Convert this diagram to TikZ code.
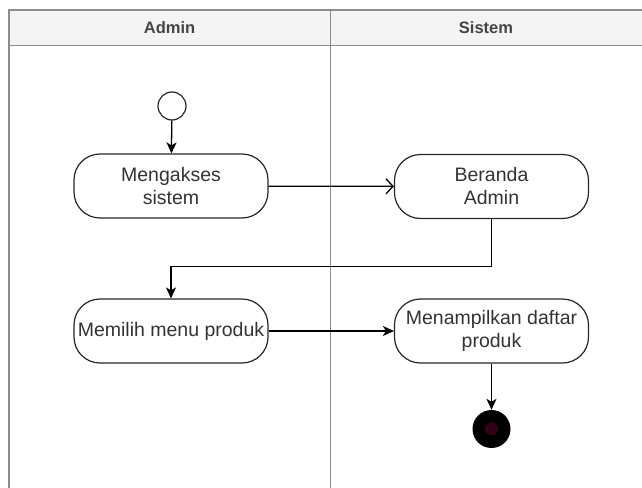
\documentclass[tikz,border=0pt]{standalone}
\usepackage{fontspec}
\setmainfont{Liberation Sans}
\usetikzlibrary{arrows.meta}
\definecolor{lane}{HTML}{8C8C8C}
\definecolor{headfill}{HTML}{F4F4F4}
\definecolor{txt}{HTML}{333333}
\definecolor{headtxt}{HTML}{444444}
\definecolor{endcore}{HTML}{33001A}
\begin{document}
\begin{tikzpicture}[x=1pt,y=-1pt,
  lanebox/.style={draw=lane,line width=1.5pt},
  lanetitle/.style={text=headtxt,font=\fontsize{16.5}{20}\selectfont\bfseries},
  action/.style={draw=black!85,line width=1.2pt,rounded corners=26pt,
    minimum width=194pt,minimum height=64pt,inner sep=0pt,
    align=center,text=txt,font=\fontsize{19.5}{23}\selectfont},
  flow/.style={draw=black,line width=1.3pt,-{Stealth[length=11pt,width=10pt,inset=3pt]}},
  openflow/.style={draw=black,line width=1.3pt,-{Straight Barb[length=7pt,width=15pt]}}]
\useasboundingbox (0,0) rectangle (642,487);
% swimlanes
\fill[headfill] (9,10) rectangle (642,45.5);
\draw[lanebox] (9,492) -- (9,10) -- (645,10);
\draw[lanebox] (9,45.5) -- (645,45.5);
\draw[lanebox] (330.5,10) -- (330.5,492);
\node[lanetitle] (hadmin) at (169.5,28) {Admin};
\node[lanetitle] (hsistem) at (486,28) {Sistem};
% nodes
\node[draw=black!85,line width=1.2pt,circle,minimum size=28pt,inner sep=0pt] (start) at (172,106) {};
\node[action] (a1) at (171,186) {Mengakses\\sistem};
\node[action] (a2) at (491.5,186.5) {Beranda\\Admin};
\node[action] (a3) at (171,331) {Memilih menu produk};
\node[action] (a4) at (491.5,331) {Menampilkan daftar\\produk};
\node[circle,fill=black,minimum size=38pt,inner sep=0pt] (final) at (491.5,429) {};
\node[circle,fill=endcore,minimum size=13pt,inner sep=0pt] (finalcore) at (final) {};
% connectors
\draw[flow] (start) -- (a1);
\draw[openflow] (a1) -- (a2);
\draw[flow] (a2.south) |- (171,266.5) -- (a3.north);
\draw[flow] (a3) -- (a4);
\draw[flow] (a4) -- (final);
\end{tikzpicture}
\end{document}
